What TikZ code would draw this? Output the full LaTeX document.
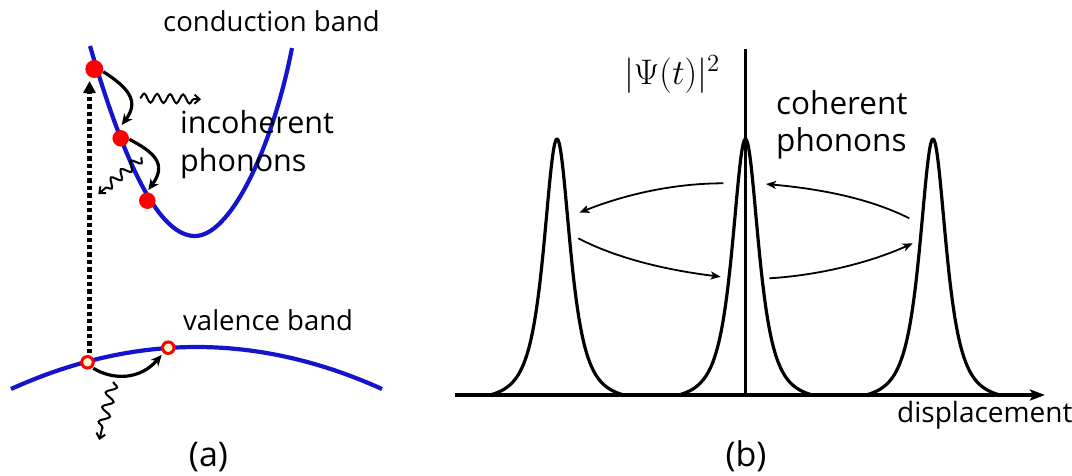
\documentclass[tikz,border=0pt]{standalone}
\usepackage[no-math]{fontspec}
\setmainfont{Open Sans}
\usetikzlibrary{arrows.meta,decorations.pathmorphing}
\definecolor{bandblue}{RGB}{20,20,205}
\definecolor{holefill}{RGB}{255,250,205}
\begin{document}
\begin{tikzpicture}[x=1pt,y=-1pt,
  lbl/.style={inner sep=0pt,font=\fontsize{27.5}{33}\selectfont},
  lblb/.style={inner sep=0pt,font=\fontsize{30.5}{36}\selectfont},
  lblc/.style={inner sep=0pt,font=\fontsize{31.5}{37}\selectfont},
  band/.style={bandblue,line width=4.2pt},
  electron/.style={circle,fill=red,inner sep=0pt},
  hole/.style={circle,draw=red,line width=3pt,fill=holefill,inner sep=0pt,minimum size=11.5pt},
  relax/.style={line width=3.2pt,-{Stealth[length=11pt,width=10pt]}},
  phonon/.style={line width=2pt,-{Straight Barb[length=5pt,width=9pt]},
    decorate,decoration={snake,segment length=13pt,amplitude=4.5pt,post length=6pt}},
  osc/.style={line width=1.8pt,-{Stealth[length=10pt,width=8pt,inset=2.5pt]}},
  peak/.style={line width=3.2pt,line join=round}]
\useasboundingbox (0,0) rectangle (1072,475);

% ---------- (a) ----------
\draw[band] (90,46) .. controls (126,169) and (160,236) .. (195,236)
            .. controls (230,236) and (272,150) .. (292,48);
\draw[band] (11,389) .. controls (135,333) and (258,333) .. (382,389);

\node[electron,minimum size=18pt] (d1) at (94.3,69) {};
\node[electron,minimum size=16.5pt] (d2) at (120.7,138.3) {};
\node[electron,minimum size=16.5pt] (d3) at (147.3,200.7) {};
\node[hole] (h1) at (87.5,362.3) {};
\node[hole] (h2) at (168.3,347.7) {};

\coordinate (up0) at (89.5,353);
\coordinate (up1) at (89.5,81);
\draw[line width=4.6pt,dash pattern=on 4.4pt off 3pt,
      -{Triangle[length=12pt,width=12pt]}] (up0) -- (up1);

\coordinate (a1s) at (103.3,71.7);
\coordinate (a1e) at (121.7,125);
\draw[relax] (a1s) .. controls +(25,16) and +(18,-24) .. (a1e);
\coordinate (a2s) at (129.3,139.3);
\coordinate (a2e) at (148.3,190);
\draw[relax] (a2s) .. controls +(25,13) and +(19,-26) .. (a2e);
\coordinate (a3s) at (93.3,368.3);
\coordinate (a3e) at (161.7,355);
\draw[relax] (a3s) .. controls +(20,12) and +(-22,25) .. (a3e);

\coordinate (w1s) at (140,98);
\coordinate (w1e) at (201,99.3);
\draw[phonon] (w1s) -- (w1e);
\coordinate (w2s) at (141.7,157.3);
\coordinate (w2e) at (98.3,194);
\draw[phonon] (w2s) -- (w2e);
\coordinate (w3s) at (113.3,381.7);
\coordinate (w3e) at (99.3,440);
\draw[phonon,decoration={snake,segment length=15pt,amplitude=5pt,post length=6pt}] (w3s) -- (w3e);

\node[lbl,anchor=base west] (cb) at (163,31) {conduction band};
\node[lblb,anchor=base west] (inc1) at (180,133) {incoherent};
\node[lblb,anchor=base west] (inc2) at (180,171) {phonons};
\node[lbl,anchor=base west] (vb) at (183,330) {valence band};
\node[inner sep=0pt,anchor=base,font=\fontsize{34}{40}\selectfont] (la) at (208.5,466) {(a)};

% ---------- (b) ----------
\coordinate (ax0) at (455,395);
\coordinate (ax1) at (1045,395);
\draw[line width=3.5pt,-{Stealth[length=15pt,width=11pt,inset=3pt]}] (ax0) -- (ax1);
\coordinate (vy0) at (745.5,395);
\coordinate (vy1) at (745.5,49);
\draw[line width=3.3pt] (vy0) -- (vy1);

\foreach \c in {557,745.5,933}{
  \draw[peak] plot[domain=-67:67,samples=201,smooth]
    ({\c+\x},{395-256*((1+(\x/20.5)^2)^(-1.5)-0.025)/0.975});
}

\coordinate (oAs) at (723.3,183.3);
\coordinate (oAe) at (579.3,212.7);
\draw[osc] (oAs) .. controls +(-50,0) and +(45,-18) .. (oAe);
\coordinate (oBs) at (909.3,218.3);
\coordinate (oBe) at (766,184);
\draw[osc] (oBs) .. controls +(-40,-20) and +(55,5) .. (oBe);
\coordinate (oCs) at (578.3,238.3);
\coordinate (oCe) at (720.7,276.7);
\draw[osc] (oCs) .. controls +(40,21) and +(-50,-6) .. (oCe);
\coordinate (oDs) at (769.3,278.3);
\coordinate (oDe) at (912.7,243.3);
\draw[osc] (oDs) .. controls +(50,-3) and +(-42,19) .. (oDe);

\node[inner sep=0pt,anchor=base,font=\fontsize{20.74}{25}\selectfont] (psi) at (672,84) {\scalebox{1.712}{$|\Psi(t)|^2$}};
\node[lblc,anchor=base west] (coh1) at (776,114) {coherent};
\node[lblc,anchor=base west] (coh2) at (776,151) {phonons};
\node[inner sep=0pt,anchor=base west,font=\fontsize{28}{34}\selectfont] (disp) at (897,422) {displacement};
\node[inner sep=0pt,anchor=base,font=\fontsize{34}{40}\selectfont] (lb) at (746,466) {(b)};
\end{tikzpicture}
\end{document}
